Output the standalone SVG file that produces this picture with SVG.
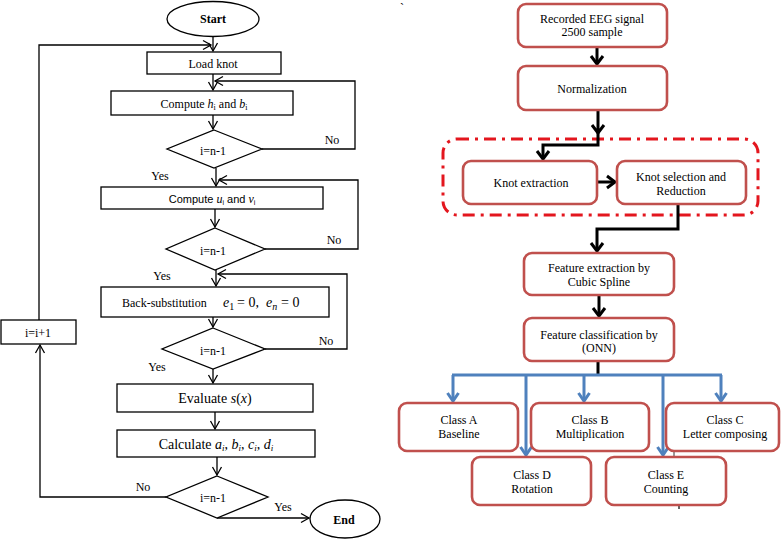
<svg xmlns="http://www.w3.org/2000/svg" width="781" height="549" viewBox="0 0 781 549">
<style>
  .t { font-family: "Liberation Serif", "Times New Roman", serif; font-size: 12px; fill: #000; }
  .c { text-anchor: middle; }
  .b { font-weight: bold; }
  .m { font-size: 14px; }
  .i { font-style: italic; }
  .s { font-family: "Liberation Sans", Arial, sans-serif; font-size: 11px; text-anchor: middle; }
  .lbox { fill: #fff; stroke: #000; stroke-width: 1.3; }
  .rbox { fill: #fff; stroke: #c0504d; stroke-width: 2.6; }
  .ln { fill: none; stroke: #000; stroke-width: 1.3; }
  .bk { fill: none; stroke: #000; stroke-width: 3; }
  .bl { fill: none; stroke: #4f81bd; stroke-width: 3; }
</style>
<defs>
  <marker id="th" viewBox="-1 -6 11 12" refX="8" refY="0" markerWidth="11" markerHeight="12" markerUnits="userSpaceOnUse" orient="auto">
    <path d="M0,-4.5 L8,0 L0,4.5" fill="none" stroke="#000" stroke-width="1.3"/>
  </marker>
  <marker id="hb" viewBox="-2 -9 14 18" refX="8" refY="0" markerWidth="14" markerHeight="18" markerUnits="userSpaceOnUse" orient="auto">
    <path d="M0,-6 L8,0 L0,6" fill="none" stroke="#000" stroke-width="3"/>
  </marker>
  <marker id="hu" viewBox="-2 -9 14 18" refX="8" refY="0" markerWidth="14" markerHeight="18" markerUnits="userSpaceOnUse" orient="auto">
    <path d="M0,-5.5 L8,0 L0,5.5" fill="none" stroke="#4f81bd" stroke-width="3"/>
  </marker>
</defs>
<rect width="781" height="549" fill="#fff"/>

<!-- ===== Left flowchart ===== -->
<g id="connectors-left">
  <line class="ln" x1="213" y1="37" x2="213" y2="51" marker-end="url(#th)"/>
  <polyline class="ln" points="39,320 39,45 211,45" marker-end="url(#th)"/>
  <line class="ln" x1="213" y1="74" x2="213" y2="90" marker-end="url(#th)"/>
  <polyline class="ln" points="262,149 355,149 355,81 215,81" marker-end="url(#th)"/>
  <line class="ln" x1="213" y1="115" x2="213" y2="129" marker-end="url(#th)"/>
  <line class="ln" x1="216" y1="168" x2="216" y2="186" marker-end="url(#th)"/>
  <polyline class="ln" points="265,249 358,249 358,180 219,180" marker-end="url(#th)"/>
  <line class="ln" x1="215" y1="209" x2="215" y2="227" marker-end="url(#th)"/>
  <line class="ln" x1="216" y1="270" x2="216" y2="286" marker-end="url(#th)"/>
  <polyline class="ln" points="265,349 347,349 347,274 218,274" marker-end="url(#th)"/>
  <line class="ln" x1="213" y1="317" x2="213" y2="327" marker-end="url(#th)"/>
  <line class="ln" x1="213" y1="369" x2="213" y2="383" marker-end="url(#th)"/>
  <line class="ln" x1="215" y1="412" x2="215" y2="429" marker-end="url(#th)"/>
  <line class="ln" x1="217" y1="457" x2="217" y2="475" marker-end="url(#th)"/>
  <polyline class="ln" points="166,497 40,497 40,345" marker-end="url(#th)"/>
  <line class="ln" x1="217" y1="518" x2="309" y2="518" marker-end="url(#th)"/>
</g>

<g id="start">
  <ellipse class="lbox" cx="213" cy="19" rx="46" ry="17.5"/>
  <text class="t c b" x="213" y="23">Start</text>
</g>
<g id="load-knot">
  <rect class="lbox" x="147" y="52" width="134" height="22"/>
  <text class="t c" x="213" y="68">Load knot</text>
</g>
<g id="compute-h-b">
  <rect class="lbox" x="111" y="91" width="182" height="24"/>
  <text class="t c" x="204" y="108" font-size="13">Compute <tspan class="i">h</tspan><tspan font-size="8" dy="2">i</tspan><tspan dy="-2"> and  </tspan><tspan class="i">b</tspan><tspan font-size="8" dy="2">i</tspan></text>
</g>
<g id="decision-1">
  <polygon class="lbox" points="214,130 262,149 214,168 167,149"/>
  <text class="t c" x="213" y="155">i=n-1</text>
</g>
<text class="t c" x="332" y="144">No</text>
<text class="t c" x="160" y="180" font-size="13">Yes</text>

<g id="compute-u-v">
  <rect class="lbox" x="101" y="187" width="222" height="22"/>
  <text class="s" x="212" y="203">Compute <tspan font-family="Liberation Serif, serif" font-style="italic" font-size="12">u</tspan><tspan font-size="7" dy="2">i</tspan><tspan dy="-2"> and </tspan><tspan font-family="Liberation Serif, serif" font-style="italic" font-size="12">v</tspan><tspan font-size="7" dy="2">i</tspan></text>
</g>
<g id="decision-2">
  <polygon class="lbox" points="215,228 265,249 215,270 166,249"/>
  <text class="t c" x="213" y="255">i=n-1</text>
</g>
<text class="t c" x="334" y="244">No</text>
<text class="t c" x="162" y="280" font-size="13">Yes</text>

<g id="back-substitution">
  <rect class="lbox" x="101" y="287" width="228" height="30"/>
  <text class="t" x="122" y="307" font-size="13.5">Back-substitution</text>
  <text class="t m i" x="223" y="307">e<tspan font-size="10" font-style="normal" dy="3">1</tspan></text>
  <text class="t m" x="237" y="307">= 0,</text>
  <text class="t m i" x="266" y="307">e<tspan font-size="10" dy="3">n</tspan></text>
  <text class="t m" x="281" y="307">= 0</text>
</g>
<g id="decision-3">
  <polygon class="lbox" points="213,328 265,349 213,369 162,349"/>
  <text class="t c" x="213" y="355">i=n-1</text>
</g>
<text class="t c" x="326" y="345">No</text>
<text class="t c" x="157" y="371" font-size="13">Yes</text>

<g id="evaluate">
  <rect class="lbox" x="117" y="384" width="196" height="28"/>
  <text class="t m c" x="215" y="403">Evaluate <tspan class="i">s</tspan>(<tspan class="i">x</tspan>)</text>
</g>
<g id="calculate">
  <rect class="lbox" x="117" y="430" width="198" height="27"/>
  <text class="t m c" x="216" y="449">Calculate <tspan class="i">a</tspan><tspan class="i" font-size="9" dy="2">i</tspan><tspan dy="-2">, </tspan><tspan class="i">b</tspan><tspan class="i" font-size="9" dy="2">i</tspan><tspan dy="-2">, </tspan><tspan class="i">c</tspan><tspan class="i" font-size="9" dy="2">i</tspan><tspan dy="-2">, </tspan><tspan class="i">d</tspan><tspan class="i" font-size="9" dy="2">i</tspan></text>
</g>
<g id="decision-4">
  <polygon class="lbox" points="217,476 268,497 217,518 166,497"/>
  <text class="t c" x="213" y="502">i=n-1</text>
</g>
<text class="t c" x="143" y="491" font-size="13">No</text>
<text class="t c" x="283" y="511" font-size="13">Yes</text>

<g id="increment">
  <rect class="lbox" x="1" y="320" width="75" height="24"/>
  <text class="t c" x="38" y="337">i=i+1</text>
</g>
<g id="end">
  <ellipse class="lbox" cx="345" cy="519" rx="35" ry="19"/>
  <text class="t c b" x="344" y="524" font-size="13">End</text>
</g>

<!-- ===== Right flowchart ===== -->
<text class="t" x="400" y="12">`</text>

<rect id="knot-group" x="443" y="139" width="315" height="76" rx="14" fill="none" stroke="#e3161e" stroke-width="3" stroke-dasharray="12 6 3 6"/>

<g id="connectors-right">
  <line class="bk" x1="597" y1="47" x2="597" y2="64" marker-end="url(#hb)"/>
  <line class="bk" x1="598" y1="111" x2="598" y2="133" marker-end="url(#hb)"/>
  <polyline class="bk" points="598,128 598,145 543,145 543,159" marker-end="url(#hb)"/>
  <line class="bk" x1="597" y1="182" x2="615" y2="182" marker-end="url(#hb)"/>
  <polyline class="bk" points="678,204 678,229 597,229 597,251" marker-end="url(#hb)"/>
  <line class="bk" x1="599" y1="295" x2="599" y2="316" marker-end="url(#hb)"/>
  <line class="bk" x1="598" y1="361" x2="598" y2="375"/>
  <line class="bl" x1="452" y1="375" x2="722" y2="375"/>
  <line class="bl" x1="453" y1="375" x2="453" y2="401" marker-end="url(#hu)"/>
  <line class="bl" x1="526" y1="375" x2="526" y2="455" marker-end="url(#hu)"/>
  <line class="bl" x1="584" y1="375" x2="584" y2="401" marker-end="url(#hu)"/>
  <line class="bl" x1="663" y1="375" x2="663" y2="455" marker-end="url(#hu)"/>
  <line class="bl" x1="721" y1="375" x2="721" y2="401" marker-end="url(#hu)"/>
  <line x1="674" y1="451" x2="674" y2="465" stroke="#333" stroke-width="1"/>
  <line x1="679" y1="505" x2="679" y2="509" stroke="#333" stroke-width="1.5"/>
</g>

<g id="recorded-eeg">
  <rect class="rbox" x="518" y="4" width="149" height="43" rx="8"/>
  <text class="t c" x="592" y="23">Recorded EEG signal</text>
  <text class="t c" x="592" y="36">2500 sample</text>
</g>
<g id="normalization">
  <rect class="rbox" x="518" y="66" width="149" height="44" rx="8"/>
  <text class="t c" x="592" y="93">Normalization</text>
</g>
<g id="knot-extraction">
  <rect class="rbox" x="463" y="161" width="134" height="43" rx="8"/>
  <text class="t c" x="531" y="187">Knot extraction</text>
</g>
<g id="knot-selection">
  <rect class="rbox" x="617" y="161" width="129" height="43" rx="8"/>
  <text class="t c" x="681" y="181">Knot selection and</text>
  <text class="t c" x="681" y="195">Reduction</text>
</g>
<g id="feature-extraction">
  <rect class="rbox" x="524" y="253" width="150" height="42" rx="8"/>
  <text class="t c" x="599" y="272">Feature extraction by</text>
  <text class="t c" x="599" y="286">Cubic Spline</text>
</g>
<g id="feature-classification">
  <rect class="rbox" x="524" y="318" width="150" height="43" rx="8"/>
  <text class="t c" x="599" y="339">Feature classification by</text>
  <text class="t c" x="599" y="352">(ONN)</text>
</g>
<g id="class-a">
  <rect class="rbox" x="399" y="403" width="119" height="48" rx="8"/>
  <text class="t c" x="459" y="424">Class A</text>
  <text class="t c" x="459" y="438">Baseline</text>
</g>
<g id="class-b">
  <rect class="rbox" x="531" y="403" width="118" height="48" rx="8"/>
  <text class="t c" x="590" y="424">Class B</text>
  <text class="t c" x="590" y="438">Multiplication</text>
</g>
<g id="class-c">
  <rect class="rbox" x="666" y="403" width="113" height="48" rx="8"/>
  <text class="t c" x="725" y="424">Class C</text>
  <text class="t c" x="725" y="438">Letter composing</text>
</g>
<g id="class-d">
  <rect class="rbox" x="472" y="457" width="119" height="48" rx="8"/>
  <text class="t c" x="532" y="479">Class D</text>
  <text class="t c" x="532" y="493">Rotation</text>
</g>
<g id="class-e">
  <rect class="rbox" x="606" y="457" width="120" height="48" rx="8"/>
  <text class="t c" x="666" y="479">Class E</text>
  <text class="t c" x="666" y="493">Counting</text>
</g>
</svg>
